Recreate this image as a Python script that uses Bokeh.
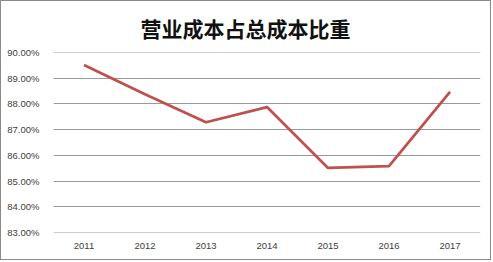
from bokeh.plotting import figure
from bokeh.models import FactorRange, Range1d, NumeralTickFormatter, FixedTicker, Title
from bokeh.embed import file_html
from bokeh.resources import INLINE

years = ["2011", "2012", "2013", "2014", "2015", "2016", "2017"]
share = [0.8952, 0.8838, 0.8729, 0.8788, 0.8551, 0.8558, 0.8847]
y_ticks = [0.83, 0.84, 0.85, 0.86, 0.87, 0.88, 0.89, 0.90]
title_text = "营业成本占总成本比重"

p = figure(x_range=FactorRange(*years, range_padding=0), y_range=Range1d(0.82995, 0.90005),
           width=491, height=260, output_backend="svg", toolbar_location=None,
           min_border_left=52, min_border_right=12, min_border_top=50, min_border_bottom=29)
p.styles = {"border": "1px solid #8a8a8a"}
p.title = Title(text=title_text, align="left", offset=87, standoff=19,
                text_font="Noto Sans CJK SC", text_font_size="21px", text_line_height=1.0,
                text_font_style="bold", text_color="#111111")
p.line(years, share, line_color="#C0504D", line_width=2.7)

p.outline_line_color = None
p.background_fill_color = "white"
p.border_fill_color = "white"

p.yaxis.ticker = FixedTicker(ticks=y_ticks)
p.yaxis.formatter = NumeralTickFormatter(format="0.00%")
for ax in (p.xaxis[0], p.yaxis[0]):
    ax.axis_line_color = None
    ax.major_tick_line_color = None
    ax.minor_tick_line_color = None
    ax.major_label_text_font = "Liberation Sans"
    ax.major_label_text_font_size = "9.5px"
    ax.major_label_text_color = "#404040"
p.yaxis.major_label_standoff = 8
p.xaxis.major_label_standoff = 4
p.xgrid.grid_line_color = None
p.ygrid.grid_line_color = "#9a9a9a"
p.ygrid.grid_line_width = 1

open("out.html", "w").write(file_html(p, INLINE))
